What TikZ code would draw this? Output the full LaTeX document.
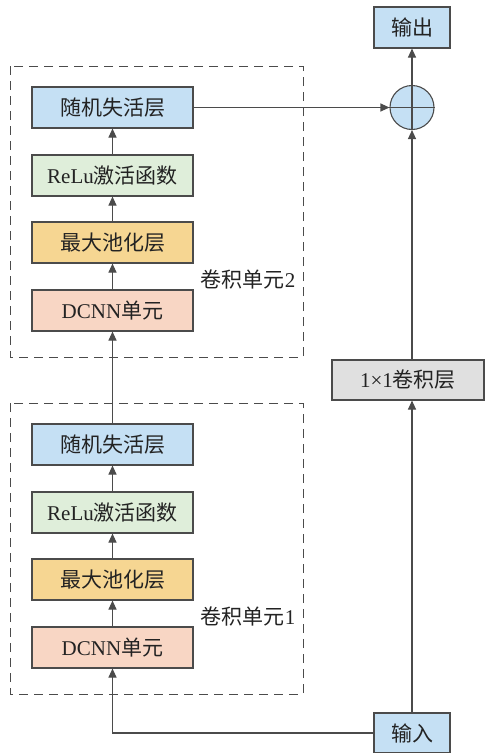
\documentclass[tikz,border=0pt]{standalone}
\usepackage{fontspec}
\setmainfont{Liberation Serif}
\newfontfamily\cjk{Noto Sans CJK SC}
\usepackage{tikz}
\usetikzlibrary{arrows.meta,calc,positioning}
\definecolor{cblue}{RGB}{197,224,244}
\definecolor{cgreen}{RGB}{223,238,218}
\definecolor{cyellow}{RGB}{246,214,146}
\definecolor{cpink}{RGB}{248,214,196}
\definecolor{cgray}{RGB}{224,224,224}
\definecolor{edge}{RGB}{75,75,75}
\definecolor{ink}{RGB}{35,35,35}

\begin{document}
\begin{tikzpicture}[x=1pt,y=-1pt,
  blk/.style={draw=edge,line width=1.1pt,minimum width=161pt,minimum height=41pt,inner sep=0pt,text=ink,font=\fontsize{21}{21}\selectfont},
  arr/.style={draw=edge,line width=1.1pt,-{Triangle[length=9pt,width=8pt]}},
  unitbox/.style={draw=edge,dash pattern=on 9pt off 6pt,line width=1pt}]
  \useasboundingbox (0,0) rectangle (485,753);
  % two convolution units, unit 1 below unit 2
  \foreach \k/\t in {1/337,2/0} {
    \draw[unitbox] (10,66+\t) rectangle (303,357+\t);
    \node[blk,fill=cblue] (drop\k) at (112.5,107.5+\t) {\cjk 随机失活层};
    \node[blk,fill=cgreen] (relu\k) at (112.5,175.5+\t) {ReLu{\cjk 激活函数}};
    \node[blk,fill=cyellow] (pool\k) at (112.5,242.5+\t) {\cjk 最大池化层};
    \node[blk,fill=cpink] (dcnn\k) at (112.5,310.5+\t) {DCNN{\cjk 单元}};
    \node[text=ink,font=\fontsize{21}{21}\selectfont] (lab\k) at (248,279+\t) {{\cjk 卷积单元}\k};
    \draw[arr] (dcnn\k) -- (pool\k);
    \draw[arr] (pool\k) -- (relu\k);
    \draw[arr] (relu\k) -- (drop\k);
  }
  % shortcut branch
  \node[blk,fill=cblue,minimum width=76pt] (out) at (412,27.5) {\cjk 输出};
  \node[circle,draw=edge,fill=cblue,line width=1.1pt,minimum size=44pt,inner sep=0pt] (add) at (412,107.5) {};
  \draw[edge,line width=1.1pt] (add.north) -- (add.south) (add.west) -- (add.east);
  \node[blk,fill=cgray,minimum width=152pt,minimum height=40pt] (conv) at (408,380) {1×1{\cjk 卷积层}};
  \node[blk,fill=cblue,minimum width=76pt,minimum height=40pt] (in) at (412,733) {\cjk 输入};
  \draw[arr] (drop2) -- (add);
  \draw[arr] (add) -- (out);
  \draw[arr] (conv.north -| add) -- (add);
  \draw[arr] (in) -- (in |- conv.south);
  \draw[arr] (drop1) -- (dcnn2);
  \draw[arr] (in.west) -| (dcnn1);
\end{tikzpicture}
\end{document}
